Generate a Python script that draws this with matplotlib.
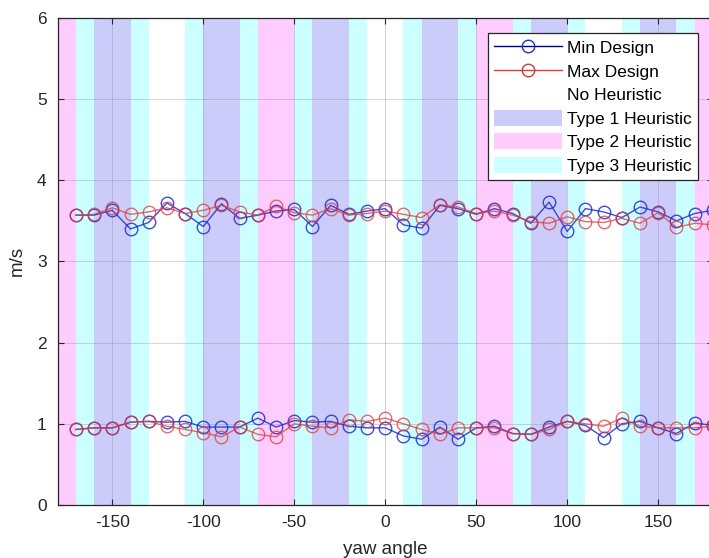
import matplotlib
matplotlib.use('Agg')
import matplotlib.pyplot as plt
from matplotlib.patches import Patch
from matplotlib.lines import Line2D
import numpy as np

plt.rcParams['font.family'] = ['Liberation Sans', 'DejaVu Sans']
plt.rcParams['axes.unicode_minus'] = False

# yaw angles of the samples
yaw = list(range(-170, 190, 10))

# upper pair of series (m/s)
min_hi = [3.57, 3.57, 3.63, 3.40, 3.48, 3.72, 3.59, 3.43, 3.71, 3.53,
          3.57, 3.62, 3.64, 3.43, 3.69, 3.58, 3.62, 3.65, 3.45, 3.41,
          3.69, 3.65, 3.58, 3.65, 3.59, 3.47, 3.73, 3.37, 3.65, 3.61,
          3.54, 3.67, 3.61, 3.50, 3.59, 3.63]
max_hi = [3.57, 3.58, 3.66, 3.58, 3.61, 3.66, 3.59, 3.63, 3.69, 3.61,
          3.57, 3.68, 3.60, 3.57, 3.65, 3.57, 3.59, 3.62, 3.58, 3.54,
          3.70, 3.67, 3.59, 3.62, 3.57, 3.49, 3.47, 3.55, 3.49, 3.48,
          3.53, 3.47, 3.60, 3.42, 3.47, 3.45]

# lower pair of series (m/s)
min_lo = [0.93, 0.95, 0.95, 1.02, 1.03, 1.02, 1.03, 0.96, 0.96, 0.96,
          1.07, 0.96, 1.04, 1.02, 1.03, 0.97, 0.95, 0.95, 0.85, 0.81,
          0.96, 0.81, 0.95, 0.97, 0.88, 0.87, 0.96, 1.03, 0.98, 0.83,
          1.00, 1.03, 0.95, 0.88, 1.01, 0.98]
max_lo = [0.93, 0.95, 0.95, 1.02, 1.03, 0.97, 0.93, 0.89, 0.84, 0.96,
          0.87, 0.84, 1.00, 0.97, 0.95, 1.05, 1.03, 1.07, 1.00, 0.93,
          0.87, 0.95, 0.95, 0.95, 0.88, 0.87, 0.93, 1.03, 1.00, 0.97,
          1.07, 0.97, 0.95, 0.95, 0.95, 0.97]

# heuristic bands: 10 degree bins starting at -180
band_start = list(range(-180, 180, 10))
band_type = ['T2', 'T3', 'T1', 'T1', 'T3', 'N', 'N', 'T3', 'T1', 'T1',
             'T3', 'T2', 'T2', 'T3', 'T1', 'T1', 'T3', 'N', 'N', 'T3',
             'T1', 'T1', 'T3', 'T2', 'T2', 'T3', 'T1', 'T1', 'T3', 'N',
             'N', 'T3', 'T1', 'T1', 'T3', 'T2']
band_color = {'N': '#ffffff', 'T1': '#ccccfa', 'T2': '#ffccff', 'T3': '#ccffff'}

fig = plt.figure(figsize=(7.09, 5.58), dpi=100)
ax = fig.add_axes([0.0814, 0.095, 0.924, 0.873])

for s, t in zip(band_start, band_type):
    ax.axvspan(s, s + 10, color=band_color[t], lw=0, zorder=0.2)

blue = '#1f2fd0'
red = '#e23a3a'
for ys in (min_hi, min_lo):
    ax.plot(yaw, ys, '-o', color=blue, mfc='none', mec=blue, ms=9,
            lw=1.0, mew=1.0, alpha=0.85, zorder=3)
for ys in (max_hi, max_lo):
    ax.plot(yaw, ys, '-o', color=red, mfc='none', mec=red, ms=9,
            lw=1.0, mew=1.0, alpha=0.75, zorder=3)

ax.set_xlim(-180, 180)
ax.set_ylim(0, 6)
ax.set_xticks([-150, -100, -50, 0, 50, 100, 150])
ax.set_yticks([0, 1, 2, 3, 4, 5, 6])
ax.grid(True, color='#888888', alpha=0.35, lw=0.7)
ax.set_axisbelow(False)
ax.tick_params(direction='in', top=True, right=True, labelsize=12.5,
               colors='#262626', length=4)
ax.tick_params(axis='x', pad=7)
ax.tick_params(axis='y', pad=8)
for sp in ax.spines.values():
    sp.set_color('#262626')
    sp.set_linewidth(0.9)
    sp.set_zorder(5)
ax.set_xlabel('yaw angle', fontsize=13.5, color='#262626', labelpad=8)
ax.set_ylabel('m/s', fontsize=13.5, color='#262626', labelpad=8)

handles = [
    Line2D([], [], color='#00008b', marker='o', mfc='none', mec=blue, ms=9, lw=1),
    Line2D([], [], color=red, marker='o', mfc='none', mec='#c84040', ms=9, lw=1),
    Patch(facecolor=band_color['N'], edgecolor='none'),
    Patch(facecolor=band_color['T1'], edgecolor='none'),
    Patch(facecolor=band_color['T2'], edgecolor='none'),
    Patch(facecolor=band_color['T3'], edgecolor='none'),
]
labels = ['Min Design', 'Max Design', 'No Heuristic', 'Type 1 Heuristic',
          'Type 2 Heuristic', 'Type 3 Heuristic']
leg = ax.legend(handles, labels, loc='upper right',
                bbox_to_anchor=(698 / 709, 1 - 33 / 558),
                bbox_transform=fig.transFigure, fontsize=12.5,
                handlelength=3.9, handleheight=1.05, labelspacing=0.38,
                handletextpad=0.3, borderpad=0.35, fancybox=False,
                framealpha=1, edgecolor='#262626', borderaxespad=0)
leg.get_frame().set_linewidth(0.9)
leg.set_zorder(10)

fig.savefig('out.png', dpi=100)
